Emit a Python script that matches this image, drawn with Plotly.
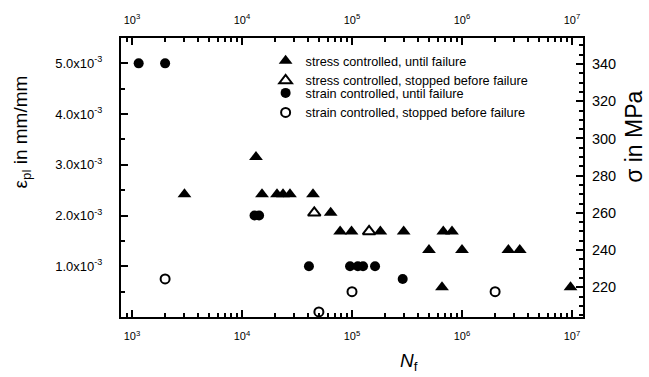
import plotly.graph_objects as go

# ---- data -------------------------------------------------------------
# stress controlled tests: cycles to failure and stress amplitude (MPa)
stress_fail_N = [13400, 3000, 15200, 20800, 23600, 27300, 44200, 64000,
                 78000, 99000, 181000, 295000, 676000, 811000,
                 501000, 1000000, 2640000, 3350000, 658000, 9700000]
stress_fail_S = [290, 270, 270, 270, 270, 270, 270, 260,
                 250, 250, 250, 250, 250, 250,
                 240, 240, 240, 240, 220, 220]

stress_stop_N = [45400, 143000]
stress_stop_S = [260, 250]

# strain controlled tests: cycles and plastic strain amplitude (mm/mm)
strain_fail_N = [1150, 2000, 13000, 14300, 40600, 96000, 113000, 126000,
                 162000, 289000]
strain_fail_E = [5.0e-3, 5.0e-3, 2.0e-3, 2.0e-3, 1.0e-3, 1.0e-3, 1.0e-3,
                 1.0e-3, 1.0e-3, 0.75e-3]

strain_stop_N = [2000, 50000, 100000, 2000000]
strain_stop_E = [0.75e-3, 0.1e-3, 0.5e-3, 0.5e-3]

# ---- axis ticks -------------------------------------------------------
x_decades = [1e3, 1e4, 1e5, 1e6, 1e7]
x_labels = ["10<sup>3</sup>", "10<sup>4</sup>", "10<sup>5</sup>",
            "10<sup>6</sup>", "10<sup>7</sup>"]
x_minor = [m * d for d in [1e2, 1e3, 1e4, 1e5, 1e6] for m in range(2, 10)]

eps_ticks = [1.0e-3, 2.0e-3, 3.0e-3, 4.0e-3, 5.0e-3]
eps_labels = ["1.0x10<sup>-3</sup>", "2.0x10<sup>-3</sup>",
              "3.0x10<sup>-3</sup>", "4.0x10<sup>-3</sup>",
              "5.0x10<sup>-3</sup>"]
sig_ticks = [220, 240, 260, 280, 300, 320, 340]

FONT = "Liberation Sans, Arial, sans-serif"
BLACK = "#000000"

fig = go.Figure()

# stress data use the top N axis and the right sigma axis
fig.add_trace(go.Scatter(
    x=stress_fail_N, y=stress_fail_S, xaxis="x2", yaxis="y2",
    mode="markers", name="stress controlled, until failure",
    legend="legend",
    marker=dict(symbol="triangle-up", size=12, color=BLACK,
                line=dict(width=0)),
    cliponaxis=False))
fig.add_trace(go.Scatter(
    x=stress_stop_N, y=stress_stop_S, xaxis="x2", yaxis="y2",
    mode="markers", name="stress controlled, stopped before failure",
    legend="legend",
    marker=dict(symbol="triangle-up-open", size=11, color=BLACK,
                line=dict(width=2, color=BLACK)),
    cliponaxis=False))
# strain data use the bottom N axis and the left epsilon axis
fig.add_trace(go.Scatter(
    x=strain_fail_N, y=strain_fail_E, mode="markers",
    name="strain controlled, until failure", legend="legend2",
    marker=dict(symbol="circle", size=10, color=BLACK,
                line=dict(width=0)),
    cliponaxis=False))
fig.add_trace(go.Scatter(
    x=strain_stop_N, y=strain_stop_E, mode="markers",
    name="strain controlled, stopped before failure", legend="legend2",
    marker=dict(symbol="circle-open", size=9, color=BLACK,
                line=dict(width=2, color=BLACK)),
    cliponaxis=False))

tick_font = dict(family=FONT, size=11, color=BLACK)
minor_x = dict(tickmode="array", tickvals=x_minor, ticks="inside",
               ticklen=4, tickwidth=1.5, tickcolor=BLACK, showgrid=False)

legend_common = dict(
    font=dict(family=FONT, size=12.7, color=BLACK),
    bgcolor="rgba(0,0,0,0)", borderwidth=0, itemwidth=30,
    xanchor="left", yanchor="top", x=0.313, itemclick=False,
)

fig.update_layout(
    width=649, height=377,
    margin=dict(l=121, r=66, t=34, b=60, pad=0),
    paper_bgcolor="white", plot_bgcolor="white",
    showlegend=True,
    legend=dict(legend_common, y=0.9709),
    legend2=dict(legend_common, y=0.8561),
    xaxis=dict(
        type="log", range=[2.9, 7.1], showgrid=False, zeroline=False,
        showline=True, linewidth=2, linecolor=BLACK,
        tickmode="array", tickvals=x_decades, ticktext=x_labels,
        ticks="inside", ticklen=7, tickwidth=1.5, tickcolor=BLACK,
        tickfont=tick_font, ticklabelstandoff=8, minor=minor_x,
    ),
    xaxis2=dict(
        type="log", range=[2.9, 7.1], overlaying="x", side="top",
        anchor="y2", showgrid=False, zeroline=False,
        showline=True, linewidth=2, linecolor=BLACK,
        tickmode="array", tickvals=x_decades, ticktext=x_labels,
        ticks="inside", ticklen=7, tickwidth=1.5, tickcolor=BLACK,
        tickfont=tick_font, ticklabelstandoff=8, minor=minor_x,
    ),
    yaxis=dict(
        range=[0, 5.5e-3], showgrid=False, zeroline=False,
        showline=True, linewidth=2, linecolor=BLACK,
        tickmode="array", tickvals=eps_ticks, ticktext=eps_labels,
        ticks="inside", ticklen=7, tickwidth=1.5, tickcolor=BLACK,
        tickfont=dict(family=FONT, size=13, color=BLACK),
        ticklabelstandoff=14,
        minor=dict(dtick=0.5e-3, tick0=0, ticks="inside", ticklen=4,
                   tickwidth=1.5, tickcolor=BLACK, showgrid=False),
    ),
    yaxis2=dict(
        range=[204, 354], overlaying="y", side="right", anchor="x2",
        showgrid=False, zeroline=False,
        showline=True, linewidth=2, linecolor=BLACK,
        tickmode="array", tickvals=sig_ticks,
        ticks="inside", ticklen=7, tickwidth=1.5, tickcolor=BLACK,
        tickfont=dict(family=FONT, size=14.5, color=BLACK),
        ticklabelstandoff=4,
        minor=dict(dtick=5, tick0=0, ticks="inside", ticklen=4,
                   tickwidth=1.5, tickcolor=BLACK, showgrid=False),
    ),
    annotations=[
        dict(text="ε<sub>pl</sub> in mm/mm", textangle=-90,
             xref="paper", yref="paper", x=-0.214, y=0.662,
             xanchor="center", yanchor="middle", showarrow=False,
             font=dict(family=FONT, size=19, color=BLACK)),
        dict(text="σ in MPa", textangle=-90,
             xref="paper", yref="paper", x=1.110, y=0.645,
             xanchor="center", yanchor="middle", showarrow=False,
             font=dict(family=FONT, size=23, color=BLACK)),
        dict(text="<i>N</i><sub>f</sub>",
             xref="paper", yref="paper", x=0.623, y=-0.16,
             xanchor="center", yanchor="middle", showarrow=False,
             font=dict(family=FONT, size=19, color=BLACK)),
    ],
)

fig.write_html("out.html")
